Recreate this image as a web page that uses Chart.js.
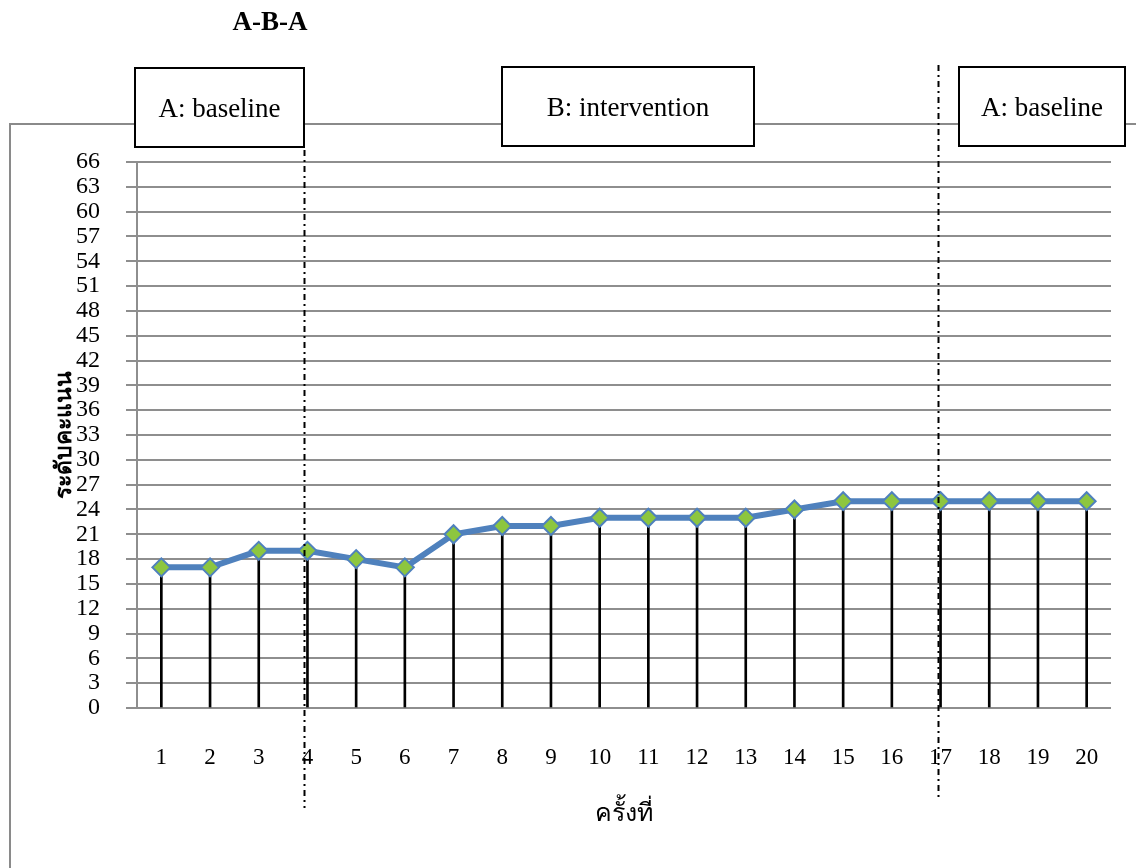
<!DOCTYPE html>
<html>
<head>
<meta charset="utf-8">
<script src="https://cdn.jsdelivr.net/npm/chart.js@4/dist/chart.umd.min.js"></script>
<style>
    html, body { margin: 0; padding: 0; background: #fff; }
    #wrap { width: 1136px; height: 868px; position: relative; }
</style>
</head>
<body>
<div id="wrap"><canvas id="graficoFases"></canvas></div>
<script>
const sessoes = ["1", "2", "3", "4", "5", "6", "7", "8", "9", "10",
                 "11", "12", "13", "14", "15", "16", "17", "18", "19", "20"];
const pontuacao = [17, 17, 19, 19, 18, 17, 21, 22, 22, 23, 23, 23, 23, 24, 25, 25, 25, 25, 25, 25];
const escalaY = { min: 0, max: 66, passo: 3 };
const fases = ["A: baseline", "B: intervention", "A: baseline"];
const trocaFase = [3, 16]; // index of the session where each phase line sits
const tituloGrafico = "A-B-A";
const tituloX = "ครั้งที่";
const tituloY = "ระดับคะแนน";

const serif = "'Liberation Serif', 'Times New Roman', serif";

// frame, phase boxes and dash-dot phase lines
const fasesPlugin = {
    id: "fasesPlugin",
    beforeDraw(chart) {
        const c = chart.ctx;
        c.save();
        c.strokeStyle = "#8a8a8a";
        c.lineWidth = 2;
        c.beginPath();
        c.moveTo(10, 870);
        c.lineTo(10, 124);
        c.lineTo(1140, 124);
        c.stroke();
        c.restore();
    },
    afterDraw(chart) {
        const c = chart.ctx;
        const x = chart.scales.x;
        c.save();

        c.fillStyle = "#000";
        c.font = "bold 27px " + serif;
        c.textAlign = "center";
        c.textBaseline = "middle";
        c.fillText(tituloGrafico, 270, 23);

        const caixas = [
            { x: 135, y: 68, w: 169, h: 79 },
            { x: 502, y: 67, w: 252, h: 79 },
            { x: 959, y: 67, w: 166, h: 79 }
        ];
        c.font = "27px " + serif;
        caixas.forEach((b, i) => {
            c.fillStyle = "#fff";
            c.fillRect(b.x, b.y, b.w, b.h);
            c.strokeStyle = "#000";
            c.lineWidth = 2;
            c.strokeRect(b.x, b.y, b.w, b.h);
            c.fillStyle = "#000";
            c.fillText(fases[i], b.x + b.w / 2, b.y + b.h / 2 + 2);
        });

        const extensoes = [[150, 808], [65, 797]];
        c.strokeStyle = "#000";
        c.lineWidth = 2;
        c.setLineDash([6, 4, 2, 4]);
        trocaFase.forEach((idx, i) => {
            const px = Math.round(x.getPixelForValue(idx) - 3) + 0.5;
            c.beginPath();
            c.moveTo(px, extensoes[i][0]);
            c.lineTo(px, extensoes[i][1]);
            c.stroke();
        });
        c.restore();
    }
};

const ctx = document.getElementById("graficoFases").getContext("2d");

new Chart(ctx, {
    type: "bar",
    data: {
        labels: sessoes,
        datasets: [
            {
                type: "line",
                data: pontuacao,
                borderColor: "#4f81bd",
                borderWidth: 6,
                pointStyle: "rectRot",
                pointRadius: 9,
                pointBackgroundColor: "#8dc63f",
                pointBorderColor: "#4f81bd",
                pointBorderWidth: 2,
                tension: 0,
                order: 0
            },
            {
                type: "bar",
                data: pontuacao,
                backgroundColor: "#000",
                barThickness: 2,
                order: 1
            }
        ]
    },
    options: {
        responsive: true,
        maintainAspectRatio: false,
        animation: false,
        layout: { padding: { top: 162, right: 25, left: 0, bottom: 0 } },
        plugins: {
            legend: { display: false },
            tooltip: { enabled: false }
        },
        scales: {
            x: {
                grid: { display: false, drawTicks: false },
                border: { display: false },
                afterFit(s) { s.height = 160; },
                ticks: {
                    color: "#000",
                    padding: 36,
                    font: { family: serif, size: 23 }
                },
                title: {
                    display: true,
                    text: tituloX,
                    color: "#000",
                    padding: { top: 0, bottom: 39 },
                    font: { family: serif, size: 25 }
                }
            },
            y: {
                min: escalaY.min,
                max: escalaY.max,
                afterFit(s) { s.width = 137; },
                grid: {
                    color: "#8e8e8e",
                    lineWidth: 2,
                    tickLength: 11
                },
                border: { color: "#8e8e8e", width: 2 },
                ticks: {
                    stepSize: escalaY.passo,
                    color: "#000",
                    padding: 26,
                    autoSkip: false,
                    font: { family: serif, size: 24 }
                },
                title: {
                    display: true,
                    text: tituloY,
                    color: "#000",
                    padding: { top: 51, bottom: 0 },
                    font: { family: serif, size: 23, weight: "bold" }
                }
            }
        }
    },
    plugins: [fasesPlugin]
});
</script>
</body>
</html>
